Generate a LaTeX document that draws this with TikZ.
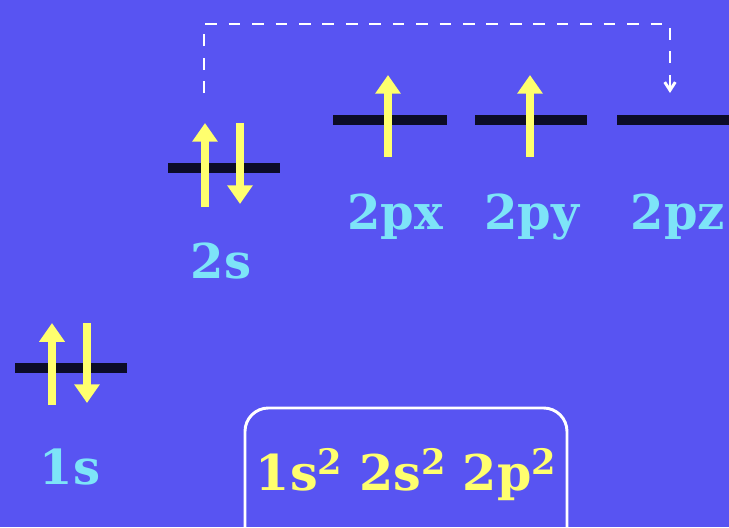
\documentclass[tikz,border=0pt]{standalone}
\usepackage{fontspec}
\setmainfont{DejaVu Serif}
\usepackage{xcolor}
\definecolor{bgblue}{RGB}{88,84,242}
\definecolor{spinyellow}{RGB}{255,255,110}
\definecolor{labelcyan}{RGB}{125,228,248}
\definecolor{levelblack}{RGB}{12,12,40}
\usetikzlibrary{arrows.meta}

\begin{document}
\begin{tikzpicture}[x=0.03cm,y=-0.03cm,
  level/.style={draw=levelblack,line width=8pt},
  spin/.style={draw=spinyellow,line width=7pt,-{Triangle[width=21pt,length=16pt]}},
  orb/.style={text=labelcyan,font=\bfseries\fontsize{41}{41}\selectfont,anchor=base,inner sep=0pt},
  conf/.style={draw=white,line width=2.5pt,rounded corners=20pt,text=spinyellow,anchor=base,
    font=\bfseries\fontsize{42}{42}\selectfont,inner sep=0pt,minimum width=9.66cm,
    text height=70pt,text depth=60pt},
  hop/.style={draw=white,line width=2.5pt,dash pattern=on 10pt off 10pt,-{Straight Barb[length=7pt,width=9pt]}}]
\clip (0,0) rectangle (729,527);
\fill[bgblue] (0,0) rectangle (729,527);
% energy levels
\draw[level] (15,368) -- (127,368);
\draw[level] (168,168) -- (280,168);
\draw[level] (333,120) -- (447,120);
\draw[level] (475,120) -- (587,120);
\draw[level] (617,120) -- (740,120);
% electrons
\draw[spin] (52,405) -- (52,323);
\draw[spin] (87,323) -- (87,403);
\draw[spin] (205,207) -- (205,123);
\draw[spin] (240,123) -- (240,204);
\draw[spin] (388,157) -- (388,75);
\draw[spin] (530,157) -- (530,75);
% promotion 2s -> 2pz
\coordinate (s2) at (204,93);
\coordinate (pz) at (670,93);
\draw[hop] (s2) -- ++(0,-69) -| (pz);
% labels
\node[orb] (l1s) at (70,484) {1s};
\node[orb] (l2s) at (221,278) {2s};
\node[orb] (l2px) at (395,229) {2px};
\node[orb] (l2py) at (532,229) {2py};
\node[orb] (l2pz) at (678,229) {2pz};
\node[conf] (cfg) at (406,490) {1s\raisebox{13pt}{\fontsize{30}{30}\selectfont 2} 2s\raisebox{13pt}{\fontsize{30}{30}\selectfont 2} 2p\raisebox{13pt}{\fontsize{30}{30}\selectfont 2}};
\end{tikzpicture}
\end{document}
